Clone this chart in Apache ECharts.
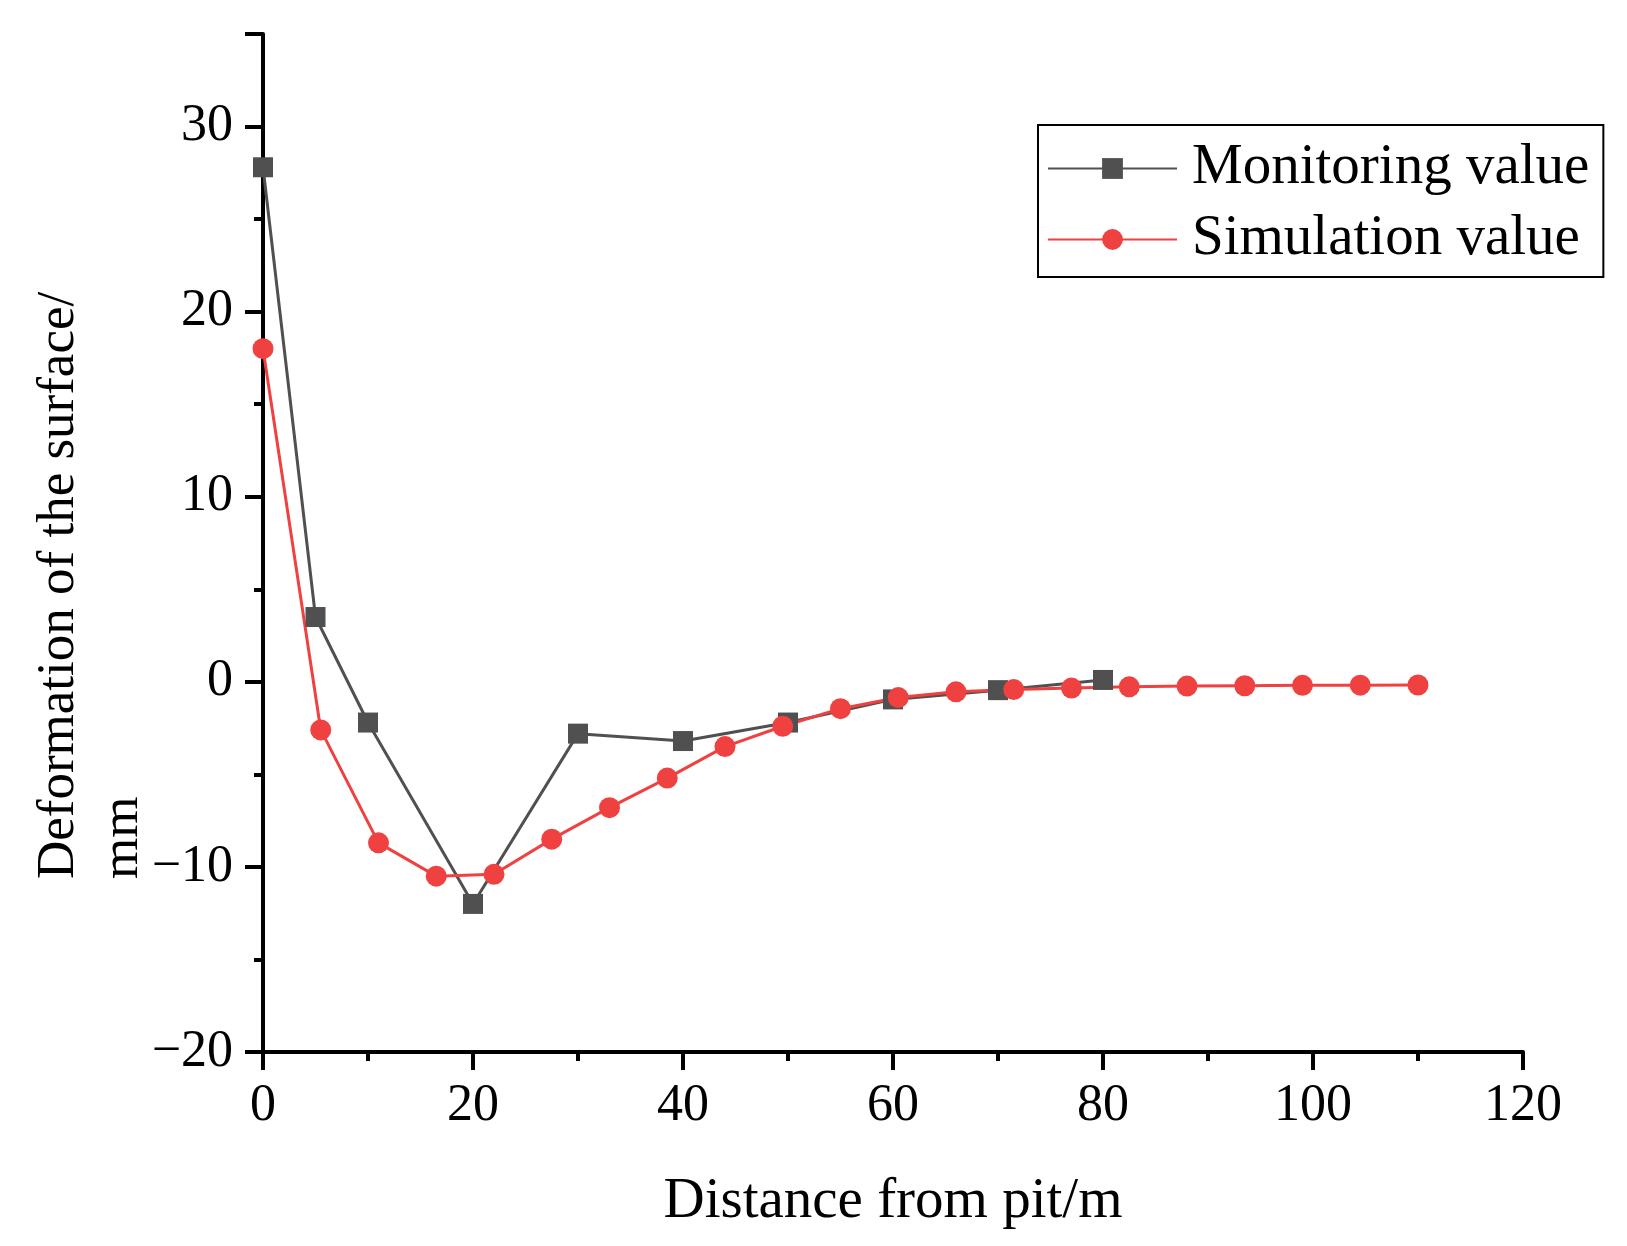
<!DOCTYPE html>
<html lang="en">

<head>
    <meta charset="UTF-8">
    <title>Surface deformation</title>
    <script src="https://cdn.jsdelivr.net/npm/echarts@6/dist/echarts.min.js"></script>
    <style>
        html, body { margin: 0; padding: 0; background: #fff; }
    </style>
</head>

<body>
    <div id="main" style="width: 1627px;height:1246px;"></div>

    <script type="text/javascript">
        // Values
        let monitorX = [0, 5, 10, 20, 30, 40, 50, 60, 70, 80];
        let monitorY = [27.8, 3.5, -2.2, -12.0, -2.8, -3.2, -2.2, -0.95, -0.45, 0.1];

        let simX = [0, 5.5, 11, 16.5, 22, 27.5, 33, 38.5, 44, 49.5, 55, 60.5, 66, 71.5, 77, 82.5, 88, 93.5, 99, 104.5, 110];
        let simY = [18.0, -2.6, -8.7, -10.5, -10.4, -8.5, -6.8, -5.2, -3.5, -2.4, -1.45, -0.85, -0.54, -0.42, -0.34, -0.27, -0.23, -0.21, -0.19, -0.18, -0.17];

        let seriesNames = ['Monitoring value', 'Simulation value'];
        let xTicks = { min: 0, max: 120, interval: 20 };
        let yTicks = { min: -20, max: 35, interval: 10 };

        let font = '"Liberation Serif", "Times New Roman", serif';
        let gray = '#505050';
        let red = '#f04141';

        let toPairs = (xs, ys) => xs.map((x, i) => [x, ys[i]]);
        let minus = v => String(v).replace('-', '\u2212');

        let myChart = echarts.init(document.getElementById('main'));

        let options = {
            backgroundColor: '#fff',
            animation: false,
            grid: { left: 263, top: 34, right: 104, bottom: 194 },
            legend: {
                orient: 'vertical',
                left: 1038,
                top: 125,
                padding: [15, 14, 9, 9],
                borderColor: '#000',
                borderWidth: 2,
                itemWidth: 129,
                itemHeight: 26,
                itemGap: 14,
                textStyle: { fontFamily: font, fontSize: 57, color: '#000', padding: [0, 0, 0, 10] },
                data: seriesNames
            },
            xAxis: {
                type: 'value',
                min: xTicks.min,
                max: xTicks.max,
                interval: xTicks.interval,
                name: 'Distance from pit/m',
                nameLocation: 'middle',
                nameGap: 122,
                nameTextStyle: { fontFamily: font, fontSize: 57, color: '#000' },
                axisLine: { onZero: false, lineStyle: { color: '#000', width: 4 } },
                axisTick: { length: 18, lineStyle: { width: 4 } },
                minorTick: { show: true, splitNumber: 2, length: 9, lineStyle: { color: '#000', width: 4 } },
                splitLine: { show: false },
                axisLabel: { fontFamily: font, fontSize: 52, color: '#000', margin: 28 }
            },
            yAxis: {
                type: 'value',
                min: yTicks.min,
                max: yTicks.max,
                interval: yTicks.interval,
                axisLine: { show: true, onZero: false, lineStyle: { color: '#000', width: 4 } },
                axisTick: { show: true, length: 18, lineStyle: { width: 4 } },
                minorTick: { show: true, splitNumber: 2, length: 9, lineStyle: { color: '#000', width: 4 } },
                splitLine: { show: false },
                axisLabel: {
                    fontFamily: font, fontSize: 52, color: '#000', margin: 30,
                    showMaxLabel: false,
                    formatter: v => minus(v)
                }
            },
            graphic: [{
                type: 'text',
                x: 27,
                y: 879,
                rotation: Math.PI / 2,
                style: {
                    text: 'Deformation of the surface/\nmm',
                    font: '53px ' + font,
                    lineHeight: 64,
                    fill: '#000',
                    align: 'left',
                    verticalAlign: 'top'
                }
            }],
            series: [{
                name: seriesNames[0],
                type: 'line',
                data: toPairs(monitorX, monitorY),
                symbol: 'rect',
                symbolSize: 20,
                itemStyle: { color: gray },
                lineStyle: { color: gray, width: 3 }
            }, {
                name: seriesNames[1],
                type: 'line',
                data: toPairs(simX, simY),
                symbol: 'circle',
                symbolSize: 21,
                itemStyle: { color: red },
                lineStyle: { color: red, width: 3 }
            }]
        };

        myChart.setOption(options);
    </script>
</body>

</html>
